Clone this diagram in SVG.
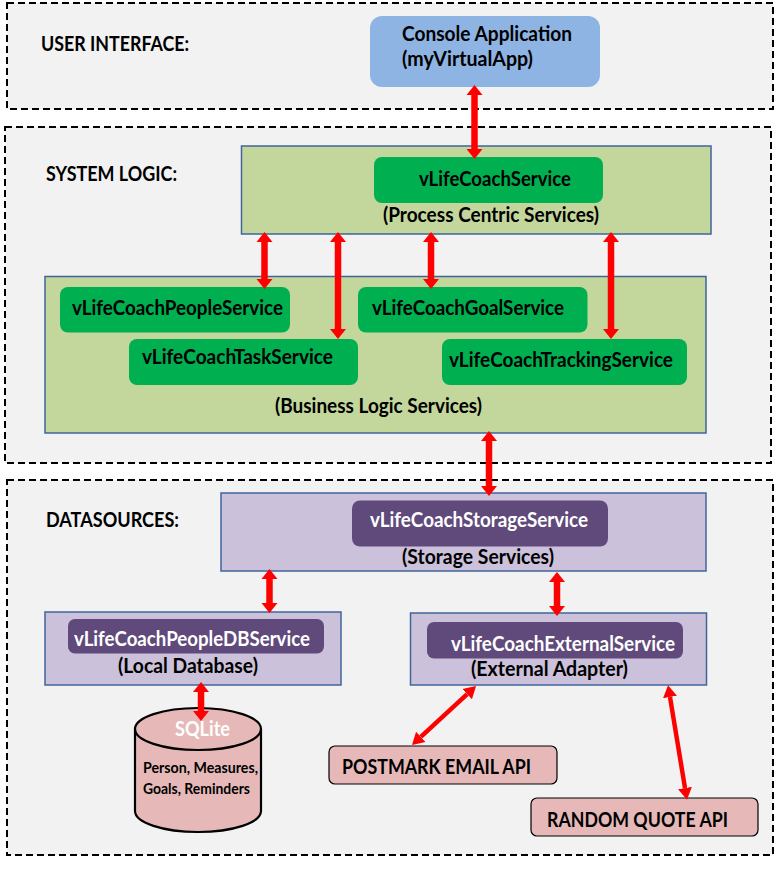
<svg xmlns="http://www.w3.org/2000/svg" width="784" height="875" viewBox="0 0 784 875">
<style>
text{font-family:"Lato","Open Sans","Liberation Sans",sans-serif;font-weight:700;font-size:20px;fill:#000}
.w{fill:#fff}
.s{font-size:14.500px}
.region{fill:#f2f2f2;stroke:#000;stroke-width:2;stroke-dasharray:7 4}
.green{fill:#c3d69b;stroke:#41659a;stroke-width:1.5}
.purple{fill:#ccc1da;stroke:#41659a;stroke-width:1.5}
.gs{fill:#00b050}
.ps{fill:#604a7b}
.api{fill:#e6b9b8;stroke:#000;stroke-width:1.2}
.cyl{fill:#e6b9b8;stroke:#000;stroke-width:2.2}
.arrow{stroke:#f00;stroke-width:6.500;fill:none;marker-start:url(#h);marker-end:url(#h)}
.thin{stroke-width:4.500;marker-start:url(#t);marker-end:url(#t)}
</style>
<defs>
<marker id="h" markerUnits="userSpaceOnUse" markerWidth="11" markerHeight="17" refX="0" refY="8.500" orient="auto-start-reverse"><path d="M0,0.500L10,8.500L0,16.500z" fill="#f00"/></marker>
<marker id="t" markerUnits="userSpaceOnUse" markerWidth="13" markerHeight="15" refX="0" refY="7.500" orient="auto-start-reverse"><path d="M0,0.500L12,7.500L0,14.500z" fill="#f00"/></marker>
</defs>
<g id="region-ui"><rect class="region" x="7" y="3" width="766" height="106"/><text x="41" y="51" textLength="148" lengthAdjust="spacingAndGlyphs">USER INTERFACE:</text></g>
<g id="region-system"><rect class="region" x="5" y="127" width="766" height="336"/><text x="46" y="181" textLength="131" lengthAdjust="spacingAndGlyphs">SYSTEM LOGIC:</text></g>
<g id="region-data"><rect class="region" x="7" y="480" width="766" height="375"/><text x="46" y="527" textLength="133" lengthAdjust="spacingAndGlyphs">DATASOURCES:</text></g>
<g id="console"><rect x="370" y="16" width="230" height="71" rx="12" fill="#8eb4e3"/><text x="402" y="41" textLength="170" lengthAdjust="spacingAndGlyphs">Console Application</text><text x="402" y="66" textLength="131" lengthAdjust="spacingAndGlyphs">(myVirtualApp)</text></g>
<g id="process-centric"><rect class="green" x="241.500" y="146" width="469.500" height="88"/><rect class="gs" x="374" y="157" width="229" height="46" rx="8"/><text x="419" y="186" textLength="152" lengthAdjust="spacingAndGlyphs">vLifeCoachService</text><text x="383" y="222" textLength="216" lengthAdjust="spacingAndGlyphs">(Process Centric Services)</text></g>
<g id="business-logic"><rect class="green" x="45" y="276.500" width="661" height="156.500"/><text x="275" y="413" textLength="207" lengthAdjust="spacingAndGlyphs">(Business Logic Services)</text></g>
<g id="people-service"><rect class="gs" x="60" y="287" width="230" height="45.500" rx="8"/><text x="72" y="315" textLength="211" lengthAdjust="spacingAndGlyphs">vLifeCoachPeopleService</text></g>
<g id="goal-service"><rect class="gs" x="358" y="287" width="229.500" height="45.500" rx="8"/><text x="372" y="315" textLength="192" lengthAdjust="spacingAndGlyphs">vLifeCoachGoalService</text></g>
<g id="task-service"><rect class="gs" x="129" y="339" width="229" height="46" rx="8"/><text x="142" y="364" textLength="191" lengthAdjust="spacingAndGlyphs">vLifeCoachTaskService</text></g>
<g id="tracking-service"><rect class="gs" x="442" y="339" width="245" height="46" rx="8"/><text x="449" y="367" textLength="224" lengthAdjust="spacingAndGlyphs">vLifeCoachTrackingService</text></g>
<g id="storage"><rect class="purple" x="221" y="493" width="485" height="78"/><rect class="ps" x="352" y="500.500" width="256" height="46" rx="8"/><text class="w" x="370" y="527" textLength="218" lengthAdjust="spacingAndGlyphs">vLifeCoachStorageService</text><text x="402" y="564" textLength="152" lengthAdjust="spacingAndGlyphs">(Storage Services)</text></g>
<g id="people-db"><rect class="purple" x="45" y="612" width="296" height="73"/><rect class="ps" x="68" y="619" width="256" height="34.500" rx="7"/><text class="w" x="74" y="646" textLength="236" lengthAdjust="spacingAndGlyphs">vLifeCoachPeopleDBService</text><text x="118" y="673" textLength="140" lengthAdjust="spacingAndGlyphs">(Local Database)</text></g>
<g id="external"><rect class="purple" x="410.500" y="613" width="296" height="72"/><rect class="ps" x="427" y="622" width="256" height="36.500" rx="7"/><text class="w" x="451" y="651" textLength="224" lengthAdjust="spacingAndGlyphs">vLifeCoachExternalService</text><text x="471" y="676" textLength="157" lengthAdjust="spacingAndGlyphs">(External Adapter)</text></g>
<g id="sqlite"><path class="cyl" d="M135,729A63,21 0 0 1 261,729V811A63,21 0 0 1 135,811Z"/><path class="cyl" style="fill:none" d="M135,729A63,21 0 0 0 261,729"/><text class="w" x="175" y="736" textLength="55" lengthAdjust="spacingAndGlyphs">SQLite</text><text class="s" x="143" y="773" textLength="115" lengthAdjust="spacingAndGlyphs">Person, Measures,</text><text class="s" x="143" y="794" textLength="107" lengthAdjust="spacingAndGlyphs">Goals, Reminders</text></g>
<g id="postmark"><rect class="api" x="329" y="746" width="228" height="38" rx="6"/><text x="342" y="774" textLength="189" lengthAdjust="spacingAndGlyphs">POSTMARK EMAIL API</text></g>
<g id="random-quote"><rect class="api" x="531" y="798" width="227" height="38" rx="6"/><text x="547" y="827" textLength="181" lengthAdjust="spacingAndGlyphs">RANDOM QUOTE API</text></g>
<g id="connectors">
<line class="arrow" x1="474.500" y1="95" x2="474.500" y2="149"/>
<line class="arrow" x1="264.500" y1="242" x2="264.500" y2="279"/>
<line class="arrow" x1="338" y1="242" x2="338" y2="329"/>
<line class="arrow" x1="431" y1="242" x2="431" y2="279"/>
<line class="arrow" x1="611" y1="242" x2="611" y2="329"/>
<line class="arrow" x1="489" y1="441" x2="489" y2="486"/>
<line class="arrow" x1="269.500" y1="579" x2="269.500" y2="603"/>
<line class="arrow" x1="557" y1="582" x2="557" y2="606"/>
<line class="arrow" x1="201" y1="692" x2="201" y2="711"/>
<line class="arrow thin" x1="467.200" y1="694.100" x2="420.800" y2="736.900"/>
<line class="arrow thin" x1="670" y1="697" x2="685" y2="788"/>
</g>
</svg>
